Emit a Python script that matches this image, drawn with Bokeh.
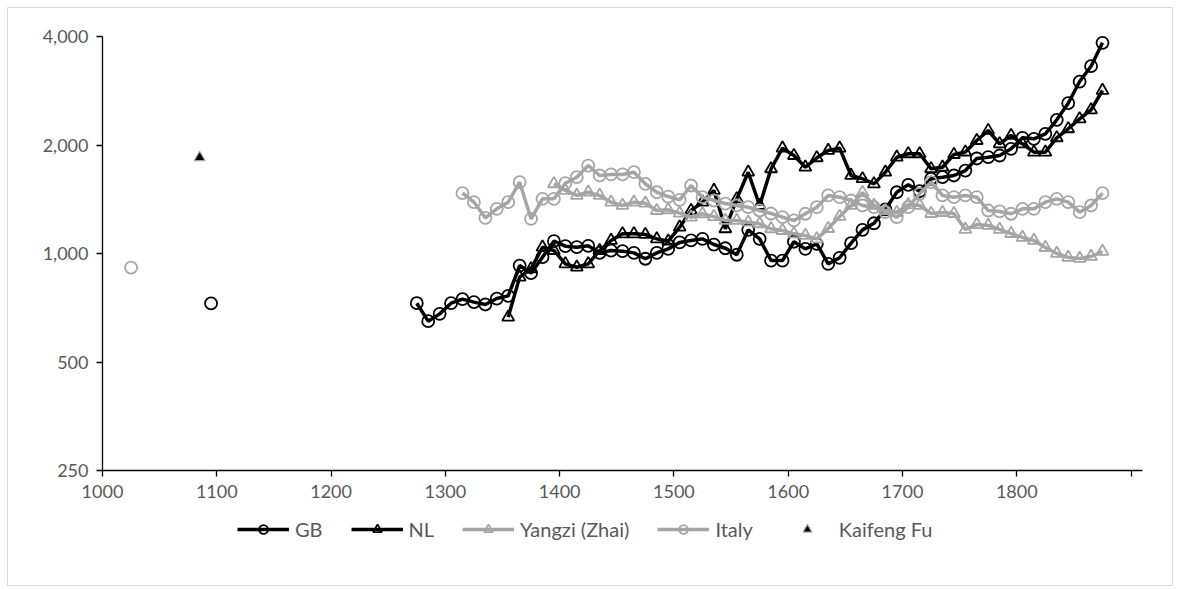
import math
from bokeh.plotting import figure
from bokeh.models import Range1d, FixedTicker, Legend, LegendItem, NumeralTickFormatter
from bokeh.embed import file_html
from bokeh.resources import INLINE

# ---------------- data ----------------
gb_years = list(range(1275, 1876, 10))
gb_vals = [728, 649, 680, 728, 747, 733, 722, 750, 763, 926, 882, 977, 1082, 1048, 1041,
           1050, 1004, 1019, 1015, 1004, 967, 1004, 1030, 1073, 1087, 1098, 1059, 1034,
           992, 1163, 1098, 956, 956, 1078, 1030, 1064, 936, 973, 1068, 1163, 1213, 1325,
           1479, 1551, 1489, 1612, 1628, 1646, 1699, 1835, 1850, 1870, 1952, 2094, 2081,
           2148, 2349, 2612, 3000, 3309, 3842]
gb_early_years = [1095]
gb_early_vals = [727]

nl_years = list(range(1355, 1876, 10))
nl_vals = [666, 860, 907, 1041, 1019, 936, 916, 936, 1019, 1087, 1134, 1134, 1129, 1098,
           1082, 1183, 1316, 1388, 1496, 1171, 1418, 1681, 1359, 1718, 1960, 1870, 1735,
           1843, 1931, 1960, 1646, 1612, 1560, 1681, 1850, 1891, 1891, 1718, 1735, 1882,
           1912, 2058, 2194, 2015, 2125, 2015, 1911, 1911, 2094, 2218, 2364, 2504, 2833]

yangzi_years = list(range(1395, 1876, 10))
yangzi_vals = [1561, 1496, 1449, 1479, 1449, 1388, 1359, 1388, 1379, 1316, 1322, 1294, 1261,
               1289, 1266, 1235, 1235, 1221, 1209, 1171, 1158, 1134, 1122, 1098, 1173, 1267,
               1359, 1476, 1359, 1316, 1299, 1367, 1359, 1291, 1299, 1291, 1166, 1203, 1196,
               1166, 1136, 1108, 1087, 1039, 1000, 975, 969, 981, 1013]

italy_years = list(range(1315, 1876, 10))
italy_vals = [1470, 1388, 1256, 1330, 1388, 1577, 1248, 1418, 1418, 1567, 1628, 1754, 1646,
              1657, 1657, 1681, 1561, 1479, 1439, 1409, 1544, 1433, 1403, 1376, 1359, 1344,
              1316, 1291, 1261, 1235, 1289, 1344, 1449, 1433, 1403, 1359, 1344, 1302, 1261,
              1344, 1464, 1577, 1449, 1433, 1449, 1433, 1316, 1308, 1289, 1330, 1330, 1388,
              1418, 1388, 1302, 1359, 1470]
italy_early_years = [1025]
italy_early_vals = [914]

kaifeng_years = [1085]
kaifeng_vals = [1846]

x_ticks = [1000, 1100, 1200, 1300, 1400, 1500, 1600, 1700, 1800, 1900]
y_ticks = [250, 500, 1000, 2000, 4000]
X_MIN, X_MAX = 1000, 1910
Y_MIN, Y_MAX = 250, 4000

# ---------------- layout (pixels) ----------------
FIG_W, FIG_H = 1173, 586        # figure size
BOX_L, BOX_T = 7, 7             # light chart border = frame outline
AX_L, AX_R = 102, 1142          # x of the drawn x axis ends
AX_T, AX_B = 36, 470            # y of the drawn y axis ends
frame_w = FIG_W - BOX_L
frame_h = FIG_H - BOX_T
px_per_year = (AX_R - AX_L) / (X_MAX - X_MIN)
px_per_dbl = (AX_B - AX_T) / math.log2(Y_MAX / Y_MIN)
x_lo = X_MIN - (AX_L - BOX_L) / px_per_year
x_hi = X_MIN + (FIG_W - AX_L) / px_per_year
y_hi = Y_MAX * 2 ** ((AX_T - BOX_T) / px_per_dbl)
y_lo = Y_MIN / 2 ** ((FIG_H - AX_B) / px_per_dbl)

# ---------------- styles ----------------
BLACK = "#000000"
GREY = "#A5A5A5"
TXT = "#595959"
FONT = "Lato"

p = figure(frame_width=frame_w, frame_height=frame_h,
           x_range=Range1d(x_lo, x_hi), y_range=Range1d(y_lo, y_hi),
           y_axis_type="log", output_backend="svg", toolbar_location=None,
           min_border_left=BOX_L, min_border_top=BOX_T, min_border_right=0,
           min_border_bottom=0)
p.outline_line_color = "#D9D9D9"
p.outline_line_width = 1
p.xgrid.visible = False
p.ygrid.visible = False
p.background_fill_color = "white"
p.border_fill_color = "white"

for ax in (p.xaxis[0], p.yaxis[0]):
    ax.axis_line_color = BLACK
    ax.axis_line_width = 1.3
    ax.major_tick_line_color = BLACK
    ax.major_tick_line_width = 1.3
    ax.major_tick_out = 6
    ax.major_tick_in = 0
    ax.minor_tick_line_color = None
    ax.major_label_text_font = FONT
    ax.major_label_text_font_size = "18px"
    ax.major_label_text_color = TXT
    ax.major_label_standoff = 8

p.xaxis.ticker = FixedTicker(ticks=x_ticks)
p.xaxis.major_label_overrides = {1900: ""}
p.xaxis.fixed_location = Y_MIN
p.xaxis.bounds = (X_MIN, X_MAX)
p.yaxis.ticker = FixedTicker(ticks=y_ticks)
p.yaxis.formatter = NumeralTickFormatter(format="0,0")
p.yaxis.fixed_location = X_MIN
p.yaxis.bounds = (Y_MIN, Y_MAX)

LW = 3.5
MS = 12
MLW = 1.8

gb_l = p.line(gb_years, gb_vals, line_color=BLACK, line_width=LW)
gb_m = p.scatter(gb_years, gb_vals, marker="circle", size=MS, line_color=BLACK,
                 line_width=MLW, fill_color=None)
gb_e = p.scatter(gb_early_years, gb_early_vals, marker="circle", size=MS, line_color=BLACK,
                 line_width=MLW, fill_color=None)

nl_l = p.line(nl_years, nl_vals, line_color=BLACK, line_width=LW)
nl_m = p.scatter(nl_years, nl_vals, marker="triangle", size=MS, line_color=BLACK,
                 line_width=MLW, fill_color=None)

yz_l = p.line(yangzi_years, yangzi_vals, line_color=GREY, line_width=LW)
yz_m = p.scatter(yangzi_years, yangzi_vals, marker="triangle", size=MS, line_color=GREY,
                 line_width=MLW, fill_color=None)

it_l = p.line(italy_years, italy_vals, line_color=GREY, line_width=LW)
it_m = p.scatter(italy_years, italy_vals, marker="circle", size=MS, line_color=GREY,
                 line_width=MLW, fill_color=None)
it_e = p.scatter(italy_early_years, italy_early_vals, marker="circle", size=MS,
                 line_color=GREY, line_width=MLW, fill_color=None)

kf_m = p.scatter(kaifeng_years, kaifeng_vals, marker="triangle", size=11, line_color=GREY,
                 line_width=1.2, fill_color=BLACK)

legend = Legend(items=[
    LegendItem(label="GB", renderers=[gb_l, gb_m]),
    LegendItem(label="NL", renderers=[nl_l, nl_m]),
    LegendItem(label="Yangzi (Zhai)", renderers=[yz_l, yz_m]),
    LegendItem(label="Italy", renderers=[it_l, it_m]),
    LegendItem(label="Kaifeng Fu", renderers=[kf_m]),
], orientation="horizontal", location=(237 - BOX_L, FIG_H - 541))
legend.border_line_color = None
legend.background_fill_alpha = 0
legend.label_text_font = FONT
legend.label_text_font_size = "20px"
legend.label_text_color = TXT
legend.glyph_width = 52
legend.glyph_height = 22
legend.label_standoff = 6
legend.spacing = 28
legend.padding = 4
legend.margin = 0
p.add_layout(legend, "center")

open("out.html", "w").write(file_html(p, INLINE))
